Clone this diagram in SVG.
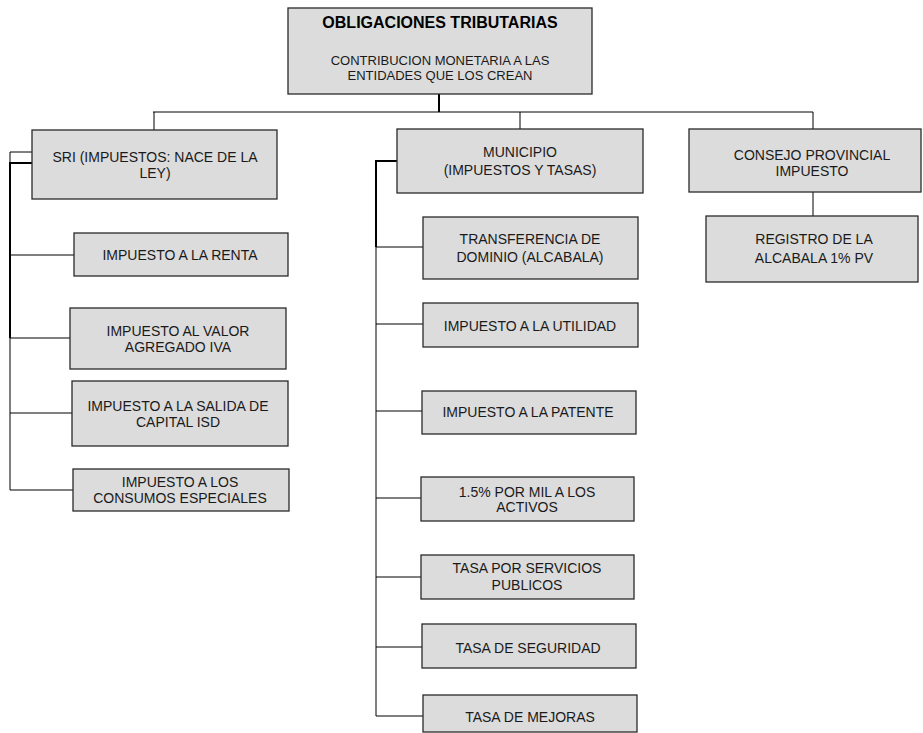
<svg xmlns="http://www.w3.org/2000/svg" width="923" height="733" viewBox="0 0 923 733">
  <style>
    .box { fill: #dcdcdc; stroke: #2a2a2a; stroke-width: 1.3; }
    .t { font-family: "Liberation Sans", Arial, sans-serif; font-size: 14px; fill: #1a1a1a; text-anchor: middle; }
    .title { font-size: 16px; font-weight: bold; fill: #000; }
    .sub { font-size: 13px; }
    .ln { stroke: #000; stroke-width: 1; fill: none; }
    .lnb { stroke: #000; stroke-width: 2; fill: none; }
  </style>
  <rect width="923" height="733" fill="#fff"/>

  <g id="connectors">
    <!-- root to level one -->
    <path class="lnb" d="M439 94 V112"/>
    <path class="ln" d="M153 112 H813"/>
    <path class="ln" d="M154 112 V130"/>
    <path class="ln" d="M520 112 V129"/>
    <path class="ln" d="M813 112 V129"/>
    <!-- SRI branch -->
    <path class="ln" d="M32 152 H10 V163"/>
    <path class="lnb" d="M32 163 H10 V338"/>
    <path class="ln" d="M10 338 V490"/>
    <path class="ln" d="M10 255 H74"/>
    <path class="ln" d="M10 338 H70"/>
    <path class="ln" d="M10 413 H72"/>
    <path class="ln" d="M10 490 H73"/>
    <!-- MUNICIPIO branch -->
    <path class="lnb" d="M397 161 H376 V247"/>
    <path class="ln" d="M376 247 V716"/>
    <path class="ln" d="M376 247 H423"/>
    <path class="ln" d="M376 324 H423"/>
    <path class="ln" d="M376 411 H422"/>
    <path class="ln" d="M376 498 H421"/>
    <path class="ln" d="M376 577 H421"/>
    <path class="ln" d="M376 647 H422"/>
    <path class="ln" d="M376 716 H423"/>
    <!-- CONSEJO branch -->
    <path class="ln" d="M813 192 V216"/>
  </g>

  <g id="root">
    <rect class="box" x="288" y="8" width="304" height="86"/>
    <text class="t title" x="440" y="28">OBLIGACIONES TRIBUTARIAS</text>
    <text class="t sub" x="440" y="65">CONTRIBUCION MONETARIA  A LAS</text>
    <text class="t sub" x="440" y="80">ENTIDADES QUE  LOS CREAN</text>
  </g>

  <g id="sri">
    <rect class="box" x="32" y="130" width="245" height="69"/>
    <text class="t" x="155" y="162">SRI  (IMPUESTOS:  NACE DE LA</text>
    <text class="t" x="155" y="178">LEY)</text>
  </g>
  <g id="renta">
    <rect class="box" x="74" y="233" width="214" height="43"/>
    <text class="t" x="180" y="260">IMPUESTO  A LA RENTA</text>
  </g>
  <g id="iva">
    <rect class="box" x="70" y="308" width="216" height="61"/>
    <text class="t" x="178" y="336">IMPUESTO  AL VALOR</text>
    <text class="t" x="178" y="352">AGREGADO IVA</text>
  </g>
  <g id="isd">
    <rect class="box" x="72" y="381" width="216" height="65"/>
    <text class="t" x="178" y="411">IMPUESTO  A LA SALIDA DE</text>
    <text class="t" x="178" y="427">CAPITAL  ISD</text>
  </g>
  <g id="consumos">
    <rect class="box" x="73" y="469" width="216" height="42"/>
    <text class="t" x="180" y="487">IMPUESTO  A LOS</text>
    <text class="t" x="180" y="503">CONSUMOS ESPECIALES</text>
  </g>

  <g id="municipio">
    <rect class="box" x="397" y="129" width="246" height="64"/>
    <text class="t" x="520" y="157">MUNICIPIO</text>
    <text class="t" x="520" y="175">(IMPUESTOS  Y TASAS)</text>
  </g>
  <g id="transferencia">
    <rect class="box" x="423" y="217" width="215" height="62"/>
    <text class="t" x="530" y="244">TRANSFERENCIA  DE</text>
    <text class="t" x="530" y="262">DOMINIO  (ALCABALA)</text>
  </g>
  <g id="utilidad">
    <rect class="box" x="423" y="303" width="215" height="44"/>
    <text class="t" x="530" y="331">IMPUESTO  A LA UTILIDAD</text>
  </g>
  <g id="patente">
    <rect class="box" x="422" y="391" width="214" height="43"/>
    <text class="t" x="528" y="417">IMPUESTO  A LA PATENTE</text>
  </g>
  <g id="activos">
    <rect class="box" x="421" y="477" width="213" height="44"/>
    <text class="t" x="527" y="497">1.5% POR MIL  A LOS</text>
    <text class="t" x="527" y="512">ACTIVOS</text>
  </g>
  <g id="servicios">
    <rect class="box" x="421" y="555" width="213" height="44"/>
    <text class="t" x="527" y="573">TASA POR SERVICIOS</text>
    <text class="t" x="527" y="590">PUBLICOS</text>
  </g>
  <g id="seguridad">
    <rect class="box" x="422" y="624" width="214" height="44"/>
    <text class="t" x="528" y="653">TASA DE SEGURIDAD</text>
  </g>
  <g id="mejoras">
    <rect class="box" x="423" y="695" width="214" height="37"/>
    <text class="t" x="530" y="722">TASA DE MEJORAS</text>
  </g>

  <g id="consejo">
    <rect class="box" x="689" y="129" width="232" height="63"/>
    <text class="t" x="812" y="160">CONSEJO PROVINCIAL</text>
    <text class="t" x="812" y="176">IMPUESTO</text>
  </g>
  <g id="registro">
    <rect class="box" x="706" y="216" width="212" height="66"/>
    <text class="t" x="814" y="244">REGISTRO  DE LA</text>
    <text class="t" x="814" y="263">ALCABALA  1% PV</text>
  </g>
</svg>
